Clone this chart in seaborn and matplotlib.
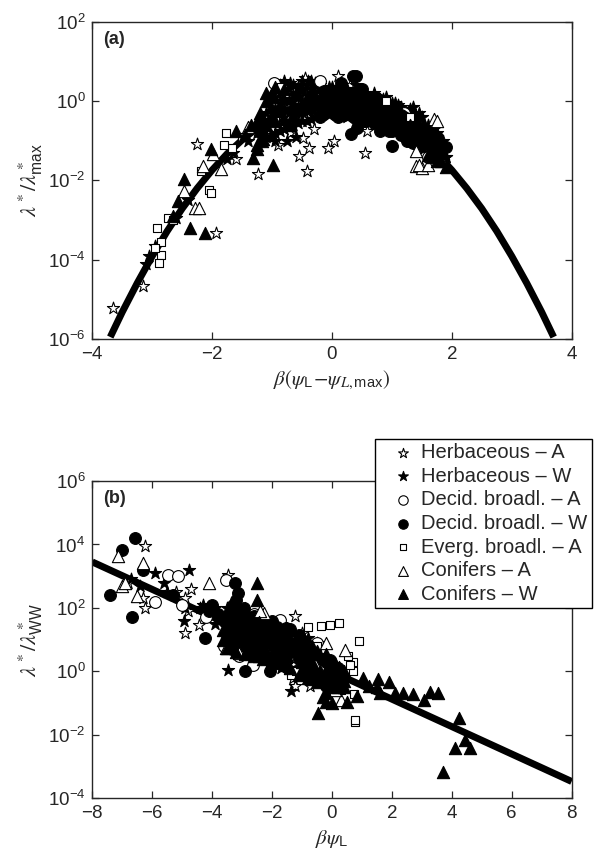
import numpy as np
import pandas as pd
import matplotlib
matplotlib.use("Agg")
import matplotlib.pyplot as plt
import seaborn as sns

# ---------------------------------------------------------------
# data (y kept as log10 values)

# panel (a): normalised by lambda*_max
a_curve_x = [-3.7, -3.5, -3.25, -3.0, -2.75, -2.5, -2.25, -2.0, -1.75, -1.5, -1.25, -1.0, -0.75, -0.5, -0.25,
             0.0, 0.25, 0.5, 0.75, 1.0, 1.25, 1.5, 1.75, 2.0, 2.25, 2.5, 2.75, 3.0, 3.25, 3.5, 3.7]
a_curve_logy = [-5.95, -5.32, -4.59, -3.91, -3.28, -2.71, -2.20, -1.74, -1.33, -0.98, -0.68, -0.43, -0.24, -0.11, -0.03,
                0.0, -0.03, -0.11, -0.24, -0.43, -0.68, -0.98, -1.33, -1.74, -2.20, -2.71, -3.28, -3.91, -4.59, -5.32, -5.95]

a_herb_a_x = [-3.66, -3.15, -2.25, -1.93, -1.24, -0.55, -0.42, -0.38, -0.48, -0.06, 0.03, 0.55, 0.58, -0.45, 0.1,
              -0.2, 0.3, -0.7, -0.9, 1.75, 1.85, -1.6, -1.1, -0.3, 0.45]
a_herb_a_logy = [-5.21, -4.66, -1.09, -3.32, -1.85, -1.39, -1.76, -1.18, -0.92, -1.18, -1.0, -1.3, -0.76, 0.59, 0.63,
                 0.45, 0.4, -0.8, -1.1, -1.4, -1.5, -1.45, -0.85, -0.7, 0.1]

a_herb_w_x = [-1.2, -1.1, -1.0, -0.9, -0.8, -0.8, -0.7, -0.6, -0.6, -0.5, -0.4, -0.4, -0.3, -0.2, -0.2, -0.1, 0.0,
              0.1, 0.2, 0.3, 0.4, 0.5, 0.6, 0.7, 0.8, 0.9, 1.0, 1.1, 1.2, 1.3, 1.35, 1.4, 1.5, 1.6, 1.7, 1.8, 1.85,
              1.9, -0.95, -0.75, -0.6, -3.1, -3.05, -2.95, -2.6, -2.4, -1.75, -1.65, -1.4,
              -0.65, -0.35, 0.05, 0.25, 0.65, 1.05, 1.45, -0.15, 0.85, 1.15, 1.55, -0.85, 0.35, 0.75,
              -1.25, -1.1, -1.1, -0.95, -0.95, -0.95, -0.8, -0.8, -0.8, -0.8, -0.65, -0.65, -0.65, -0.65,
              -0.5, -0.5, -0.5, -0.5, -0.35, -0.35, -0.35, -0.35, -0.2, -0.2, -0.2, -0.05, -0.05, -0.05,
              0.1, 0.1, 0.25, 0.25, 0.25, 0.4, 0.4, 0.55, 0.55, 0.7, 0.7, 0.85, 0.85, 1.0, 1.0, 1.15, 1.15,
              1.3, 1.3, 1.45, 1.45, 1.6, 1.6, 1.75, 1.75, 1.9]
a_herb_w_logy = [-0.9, -0.6, -0.3, 0.3, 0.0, -0.5, 0.45, 0.2, -0.3, 0.3, 0.5, -0.1, 0.2, 0.4, -0.2, 0.1, 0.35,
                 -0.1, 0.3, 0.0, 0.4, 0.1, -0.2, 0.2, -0.1, 0.1, -0.3, -0.1, -0.5, -0.2, -0.15, -0.6, -0.4, -0.9,
                 -0.7, -1.2, -1.0, -1.4, -1.0, -1.0, -0.9, -4.1, -3.9, -3.65, -2.95, -2.5, -1.45, -1.3, -1.0,
                 0.0, 0.05, 0.1, 0.15, 0.0, -0.05, -0.3, 0.2, -0.35, -0.25, -0.65, -0.2, -0.2, -0.4,
                 -0.8, -0.9, -0.3, -0.8, -0.2, 0.1, -0.7, -0.2, 0.05, 0.5, -0.6, -0.1, 0.15, 0.4,
                 -0.5, 0.0, 0.25, 0.5, -0.45, 0.05, 0.3, 0.5, -0.15, 0.1, 0.35, -0.35, 0.15, 0.35,
                 -0.1, 0.35, -0.4, 0.1, 0.3, -0.2, 0.3, 0.0, 0.2, -0.3, 0.15, -0.15, 0.05, -0.5, -0.05, -0.6, -0.15,
                 -0.5, -0.25, -0.9, -0.4, -0.6, -1.1, -1.25, -0.8, -1.4]
# core of the cloud (herbaceous W)
a_herb_w_core_x = [-0.875, -0.875, -0.875, -0.875, -0.875, -0.725, -0.725, -0.725, -0.725,
                   -0.575, -0.575, -0.575, -0.575, -0.425, -0.425, -0.425, -0.425,
                   -0.275, -0.275, -0.275, -0.275, 0.475, 0.475, 0.475, 1.225, 1.225, 1.225, 1.525, 1.525, 1.525]
a_herb_w_core_logy = [-0.75, -0.35, -0.05, 0.2, 0.4, -0.65, -0.3, 0.0, 0.3,
                      -0.55, -0.15, 0.1, 0.35, -0.5, -0.1, 0.15, 0.4,
                      -0.4, -0.05, 0.2, 0.45, -0.35, -0.1, 0.15, -0.85, -0.55, -0.3, -1.2, -0.9, -0.6]

a_decid_a_x = [-0.96, 1.2, 1.7, 0.9, 1.6, -0.2]
a_decid_a_logy = [0.46, -0.3, -1.1, -0.2, -1.4, 0.5]

a_decid_w_x = [0.35, 0.4, 0.32, 0.42, 0.8, 1.0, 1.25, 0.1, 0.2, 0.6, 0.9, 1.1, 1.4, 1.6, 1.7, 0.0, -0.3, 0.5,
               0.7, 1.2, 0.3, -0.1, 1.5, 1.8, 0.15, -0.5, 0.55, 0.95, 1.35, 1.75,
               -0.5, -0.35, -0.2, -0.05, 0.1, 0.1, 0.25, 0.4, 0.4, 0.55, 0.55, 0.7, 0.7, 0.85, 0.85,
               1.0, 1.0, 1.15, 1.15, 1.3, 1.3, 1.45, 1.45, 1.6, 1.75, 1.9]
a_decid_w_logy = [0.63, 0.62, -0.84, -0.67, -0.76, -1.13, -1.0, -0.4, -0.35, -0.3, -0.5, -0.7, -0.8, -1.0, -1.3,
                  0.2, 0.0, 0.3, 0.0, -0.4, 0.2, -0.2, -1.1, -1.5, 0.45, -0.2, -0.5, -0.75, -1.05, -0.9,
                  -0.25, -0.2, -0.4, -0.1, -0.35, 0.15, -0.15, -0.45, 0.05, -0.5, -0.25, -0.55, -0.05, -0.65, -0.4,
                  -0.75, -0.25, -0.85, -0.35, -1.0, -0.75, -1.15, -0.65, -0.85, -1.0, -1.15]
a_decid_w_core_x = [-0.125, -0.125, -0.125, 0.025, 0.025, 0.025, 0.175, 0.175, 0.175, 0.325, 0.325, 0.325,
                    0.625, 0.625, 0.625, 0.775, 0.775, 0.775, 0.925, 0.925, 0.925, 1.075, 1.075, 1.075,
                    1.375, 1.375, 1.375]
a_decid_w_core_logy = [-0.3, 0.0, 0.25, -0.25, 0.0, 0.25, -0.25, 0.0, 0.25, -0.3, -0.05, 0.2,
                       -0.4, -0.15, 0.1, -0.5, -0.2, 0.05, -0.6, -0.35, -0.1, -0.7, -0.4, -0.15,
                       -1.0, -0.7, -0.4]

a_everg_a_x = [-2.92, -2.86, -2.89, -2.73, -2.65, -2.18, -2.05, -2.02, -1.77, -1.67, -1.8, -0.85, -0.95, -1.5,
               0.9, 1.3, -2.85, -2.95]
a_everg_a_logy = [-3.19, -3.87, -4.08, -2.94, -3.0, -1.76, -2.23, -2.31, -0.80, -1.18, -1.1, 0.35, -0.5, -0.9,
                  0.0, -0.4, -3.55, -3.7]

a_con_a_x = [-2.47, -2.28, -2.22, -1.99, -2.15, -1.86, 1.7, 1.75, 1.41, 1.51, 1.45, 1.6, 1.4, -1.4, 1.8]
a_con_a_logy = [-2.27, -2.69, -2.69, -1.34, -1.64, -1.72, -0.46, -0.5, -1.64, -1.68, -1.6, -1.6, -1.25, -0.65, -1.4]

a_con_w_x = [-2.47, -2.57, -2.37, -2.12, -2.02, -1.32, -0.99, -1.25, -1.45, -1.6, -1.35, -1.2, -1.1, -1.0, -2.65,
             -0.9, -0.7, -0.4, 0.0, 0.5, 1.3, 1.6, 1.75, 1.85, -1.15,
             -1.25, -1.25, -1.1, -1.1, -0.95, -0.95, -0.8, -0.8, -0.65, 1.6, 1.75, 1.9]
a_con_w_logy = [-1.97, -2.52, -3.19, -3.32, -1.22, -1.43, -1.6, -1.2, -0.85, -0.75, -0.6, -0.3, 0.2, 0.1, -2.9,
                -0.2, -0.6, 0.1, -0.1, -0.2, -0.6, -0.7, -1.1, -1.3, -0.95,
                -1.1, -0.5, -0.6, 0.0, -0.5, 0.35, -0.45, 0.3, -0.35, -1.35, -1.5, -1.65]
a_con_w_core_x = [-1.175, -1.175, -1.175, -1.025, -1.025, -1.025, -1.025, 1.675, 1.675, 1.675, 1.825, 1.825, 1.825]
a_con_w_core_logy = [-1.0, -0.7, -0.45, -0.85, -0.45, -0.15, 0.15, -1.4, -1.1, -0.8, -1.5, -1.25, -1.0]

# panel (b): normalised by lambda*_WW
b_line_x = [-8.0, 8.0]
b_line_logy = [3.45, -3.47]

b_herb_a_x = [-6.24, -3.48, -6.24, -4.89, -4.44, -1.23, -1.23, -0.72, -6.3, -6.8, -5.2, -4.7, -4.9, -4.8, -2.2,
              -1.0, -0.8, -1.3, -0.6, -2.8, -3.2]
b_herb_a_logy = [3.95, 3.05, 2.0, 1.21, 1.47, 1.74, -0.47, -0.47, 2.3, 2.8, 2.5, 2.6, 2.3, 1.9, 1.5,
                 1.2, 0.5, -0.2, -0.1, 1.0, 1.6]

b_herb_w_x = [-4.76, -5.92, -3.48, -1.36, -6.7, -6.4, -5.6, -5.5, -4.95, -4.9, -4.3, -3.9, -3.5, -3.2, -3.0, -2.7,
              -2.5, -2.3, -2.0, -1.8, -1.5, -1.2, -0.9, -0.7, -0.4, -0.2, 0.0, 0.3, -2.9, -3.3, -1.6, -1.0, -0.5,
              -2.6, -2.1, -1.7, -1.1, -0.8, -0.3, -3.1, -2.4,
              -3.5, -3.2, -3.2, -2.9, -2.9, -2.6, -2.6, -2.3, -2.3, -2.0, -2.0, -1.7, -1.7, -1.4, -1.4, -1.1, -1.1,
              -0.8, -0.8, -0.5, -0.5, -0.2, 0.1, 0.4]
b_herb_w_logy = [3.21, 3.1, 0.05, -0.63, 2.9, 2.7, 2.8, 2.5, 1.6, 2.0, 2.1, 2.0, 2.0, 1.8, 1.3, 1.5,
                 1.2, 0.8, 1.0, 0.6, 0.9, 0.4, 0.6, 0.2, 0.3, -0.1, 0.2, -0.2, 0.6, 1.2, 0.2, -0.1, -0.3,
                 0.4, 0.2, 0.1, 0.1, 0.0, -0.3, 0.9, 0.5,
                 1.0, 0.85, 1.6, 1.05, 1.8, 0.75, 1.5, 0.9, 1.65, 0.6, 1.35, 0.75, 1.5, 0.35, 1.1, 0.15, 0.9,
                 0.3, 1.05, 0.15, 0.9, 0.05, -0.25, -0.25]
b_herb_w_core_x = [-3.05, -3.05, -3.05, -3.05, -3.05, -2.15, -2.15, -2.15, -2.15, -2.15,
                   -1.25, -1.25, -1.25, -1.25, -1.25, -0.35, -0.35, -0.35, -0.35, -3.9, -4.4]
b_herb_w_core_logy = [0.65, 0.95, 1.2, 1.45, 1.7, 0.45, 0.7, 0.95, 1.25, 1.5,
                      0.05, 0.3, 0.5, 0.75, 1.0, -0.35, -0.05, 0.2, 0.45, 1.5, 2.0]

b_decid_a_x = [-5.47, -5.15, -3.54, -1.74, -2.64, -5.9, -5.0, -4.2, -3.6, -3.1, -2.1, -1.3, -0.5, -0.3, -2.6]
b_decid_a_logy = [3.05, 3.0, 2.89, 1.63, 0.21, 2.2, 2.1, 1.7, 0.8, 0.5, 0.8, 0.3, 0.9, 0.1, 1.8]

b_decid_w_x = [-7.01, -6.56, -7.4, -6.69, -6.3, -4.25, -3.22, -3.15, -2.9, -2.06, -1.55, -5.3, -4.0, -3.6, -3.3,
               -3.0, -2.8, -2.4, -2.2, -1.9, -1.7, -1.4, -1.1, -0.9, -0.6, -0.3, -3.4, -2.6, -1.2, -0.1, 0.2,
               -3.2, -2.95, -2.7, -2.3, -1.8, -1.0, -0.4, -3.5, -2.0,
               -3.5, -3.2, -3.2, -2.9, -2.9, -2.6, -2.6, -2.3, -2.3, -2.0, -2.0, -1.7, -1.7, -1.4, -1.4,
               -1.1, -1.1, -0.8, -0.5, -0.2, 0.1, -0.2]
b_decid_w_logy = [3.84, 4.21, 2.42, 1.71, 3.21, 1.05, 2.79, 2.47, 0.0, 0.0, 1.37, 2.4, 2.1, 1.6, 2.1,
                  1.9, 1.5, 1.3, 1.0, 0.7, 1.1, 0.6, 0.8, 0.3, 0.6, 0.4, 1.3, 0.7, 0.0, 0.0, 0.1,
                  2.25, 2.0, 1.1, 0.5, 1.2, 0.5, -0.2, 1.7, 1.4,
                  1.5, 1.1, 1.85, 0.8, 1.55, 1.0, 1.75, 0.65, 1.4, 0.85, 1.6, 0.5, 1.25, 0.6, 1.35,
                  0.4, 1.15, 0.55, 0.4, 0.3, 0.0, -0.45]
b_decid_w_core_x = [-3.35, -3.35, -3.35, -3.35, -3.35, -2.75, -2.75, -2.75, -2.75, -2.75,
                    -1.85, -1.85, -1.85, -1.85, -1.85, -0.95, -0.95, -0.95, -0.95, -0.95,
                    -0.05, -0.05, -0.05, -0.05, -4.1, -3.8]
b_decid_w_core_logy = [0.7, 0.95, 1.2, 1.45, 1.7, 0.6, 0.9, 1.15, 1.4, 1.65,
                       0.35, 0.6, 0.9, 1.15, 1.4, -0.1, 0.15, 0.45, 0.7, 0.95,
                       -0.45, -0.15, 0.1, 0.35, 1.9, 1.8]

b_everg_a_x = [-0.38, -0.07, 0.25, 0.89, 0.7, 0.7, 0.76, 0.76, -1.36, -0.8, 0.55, 0.6, 0.75, -1.2, 0.3, -0.5]
b_everg_a_logy = [1.42, 1.47, 1.53, 0.95, 0.0, 0.3, -1.58, -1.52, -0.1, 1.4, 0.5, 0.2, -0.7, 0.0, -0.6, 0.8]

b_con_a_x = [-7.14, -6.3, -4.12, -7.0, -6.5, -3.54, -3.09, -2.26, 0.44, 0.31, -6.9, -2.4, -0.2, 0.1, -0.6]
b_con_a_logy = [3.63, 3.42, 2.79, 2.68, 2.37, 0.74, 0.58, 1.84, 0.68, -0.89, 2.8, 1.9, 0.9, -0.6, 0.3]

b_con_w_x = [-2.51, -2.51, -0.46, -0.2, 0.51, 1.02, 1.54, 1.92, 1.6, 2.12, 2.38, 2.7, 3.08, 3.28, 3.53, 4.24,
             4.11, 4.43, 4.62, 3.72, 1.22, 0.83, -0.2, -3.0, -2.7, -2.2, -1.8, -1.5, -1.0, -0.7, -0.4, -0.1,
             0.2, 0.4, 1.5, -2.0, -0.3, 0.0,
             -3.5, -3.5, -3.5, -3.2, -3.2, -2.9, -2.9, -2.9, -2.6, -2.6, -2.3, -2.3, -2.0, -2.0, -1.7, -1.7,
             -1.4, -1.4, -1.1, -1.1, -0.8, -0.8, -0.5, -0.5, -0.5, -0.2, -0.2, 0.1, 0.1, 0.4, 0.4]
b_con_w_logy = [2.79, 2.26, -1.32, -0.68, -0.95, -0.21, -0.24, -0.32, -0.68, -0.68, -0.68, -0.7, -0.89, -0.66,
                -0.68, -1.47, -2.42, -2.16, -2.42, -3.16, -0.47, -0.79, -0.95, 1.1, 0.9, 1.2, 0.3, 0.5, 0.3,
                -0.2, 0.0, -0.4, -0.5, -0.3, -0.5, 0.4, -0.8, -1.0,
                0.75, 1.25, 1.7, 0.6, 1.35, 0.55, 1.3, 2.0, 0.5, 1.25, 0.4, 1.15, 0.35, 1.1, 0.25, 1.0,
                0.1, 0.85, -0.1, 0.65, -0.2, 0.8, -0.35, -0.1, 0.65, -0.2, 0.55, -0.5, 0.25, -0.5, 0.0]
b_con_w_core_x = [-3.65, -3.65, -2.45, -2.45, -2.45, -2.45, -2.45, -1.55, -1.55, -1.55, -1.55, -1.55,
                  -0.65, -0.65, -0.65, -0.65, -0.65, 0.25, 0.25, 0.25]
b_con_w_core_logy = [1.0, 1.3, 0.5, 0.8, 1.05, 1.3, 1.55, 0.2, 0.45, 0.7, 1.0, 1.2,
                     -0.25, 0.05, 0.3, 0.55, 0.8, -0.4, -0.1, 0.15]

labels = ["Herbaceous \u2013 A", "Herbaceous \u2013 W", "Decid. broadl. \u2013 A", "Decid. broadl. \u2013 W",
          "Everg. broadl. \u2013 A", "Conifers \u2013 A", "Conifers \u2013 W"]

# ---------------------------------------------------------------
sns.set_style("ticks")
plt.rcParams['font.family'] = ['Liberation Sans', 'DejaVu Sans']
plt.rcParams['mathtext.fontset'] = 'stix'
plt.rcParams['xtick.direction'] = 'in'
plt.rcParams['ytick.direction'] = 'in'
plt.rcParams['axes.linewidth'] = 1.0

# marker style of each group: (marker, face, size)
styles = [("*", "white", 85), ("*", "black", 85), ("o", "white", 72), ("o", "black", 72),
          ("s", "white", 38), ("^", "white", 78), ("^", "black", 78)]


def group_frame(xs, logys):
    return pd.DataFrame({"x": xs, "y": 10.0 ** np.array(logys)})


fig = plt.figure(figsize=(6.02, 8.57), dpi=100)
ax_a = fig.add_axes([0.1533, 0.6044, 0.7963, 0.3702])
ax_b = fig.add_axes([0.1533, 0.0685, 0.7963, 0.3702])

panels = [
    (ax_a, a_curve_x, a_curve_logy,
     [(a_herb_a_x, a_herb_a_logy),
      (a_herb_w_x + a_herb_w_core_x, a_herb_w_logy + a_herb_w_core_logy),
      (a_decid_a_x, a_decid_a_logy),
      (a_decid_w_x + a_decid_w_core_x, a_decid_w_logy + a_decid_w_core_logy),
      (a_everg_a_x, a_everg_a_logy), (a_con_a_x, a_con_a_logy),
      (a_con_w_x + a_con_w_core_x, a_con_w_logy + a_con_w_core_logy)]),
    (ax_b, b_line_x, b_line_logy,
     [(b_herb_a_x, b_herb_a_logy),
      (b_herb_w_x + b_herb_w_core_x, b_herb_w_logy + b_herb_w_core_logy),
      (b_decid_a_x, b_decid_a_logy),
      (b_decid_w_x + b_decid_w_core_x, b_decid_w_logy + b_decid_w_core_logy),
      (b_everg_a_x, b_everg_a_logy), (b_con_a_x, b_con_a_logy),
      (b_con_w_x + b_con_w_core_x, b_con_w_logy + b_con_w_core_logy)]),
]

for ax, lx, ly, groups in panels:
    line_df = group_frame(lx, ly)
    sns.lineplot(data=line_df, x="x", y="y", color="black", lw=5.0, ax=ax, sort=False,
                 solid_capstyle="butt", zorder=2)
    for (gx, gy), (mk, face, size), lab in zip(groups, styles, labels):
        df = group_frame(gx, gy)
        sns.scatterplot(data=df, x="x", y="y", marker=mk, color=face, edgecolor="black",
                        linewidth=0.8, s=size, ax=ax, label=lab, zorder=3)
    ax.set_yscale("log")
    ax.tick_params(top=True, right=True, length=5, width=0.9, labelsize=13.5, pad=5)
    ax.set_xlabel("")
    ax.set_ylabel("")

# panel (a)
ax_a.set_xlim(-4, 4)
ax_a.set_ylim(1e-6, 1e2)
ax_a.set_xticks([-4, -2, 0, 2, 4])
ax_a.set_xticklabels(["\u22124", "\u22122", "0", "2", "4"])
ax_a.set_yticks([1e-6, 1e-4, 1e-2, 1e0, 1e2])
ax_a.minorticks_off()
ax_a.get_legend().remove()
ax_a.set_xlabel(r"$\beta(\psi_{\mathdefault{L}}\!-\!\psi_{L,\mathdefault{max}})$", fontsize=15, labelpad=4)
ax_a.set_ylabel(r"$\lambda^*/\lambda^*_{\mathdefault{max}}$", fontsize=16, labelpad=2)
ax_a.text(0.023, 0.972, "(a)", transform=ax_a.transAxes, fontsize=13, fontweight="bold", va="top")

# panel (b)
ax_b.set_xlim(-8, 8)
ax_b.set_ylim(1e-4, 1e6)
ax_b.set_xticks([-8, -6, -4, -2, 0, 2, 4, 6, 8])
ax_b.set_xticklabels(["\u22128", "\u22126", "\u22124", "\u22122", "0", "2", "4", "6", "8"])
ax_b.set_yticks([1e-4, 1e-2, 1e0, 1e2, 1e4, 1e6])
ax_b.minorticks_off()
ax_b.set_xlabel(r"$\beta\psi_{\mathdefault{L}}$", fontsize=15, labelpad=4)
ax_b.set_ylabel(r"$\lambda^*/\lambda^*_{\mathdefault{WW}}$", fontsize=16, labelpad=2)
ax_b.text(0.023, 0.972, "(b)", transform=ax_b.transAxes, fontsize=13, fontweight="bold", va="top")

handles, labs = ax_b.get_legend_handles_labels()
ax_b.get_legend().remove()
leg = fig.legend(handles, labs, loc="upper left", bbox_to_anchor=(0.623, 0.4878), fontsize=14.5,
                 frameon=True, fancybox=False, edgecolor="black", framealpha=1, borderpad=0.2,
                 labelspacing=0.23, handletextpad=-0.3, handlelength=2.4, borderaxespad=0, markerscale=0.8)
leg.get_frame().set_linewidth(1.0)
leg.set_zorder(10)

fig.savefig("out.png", dpi=100)
